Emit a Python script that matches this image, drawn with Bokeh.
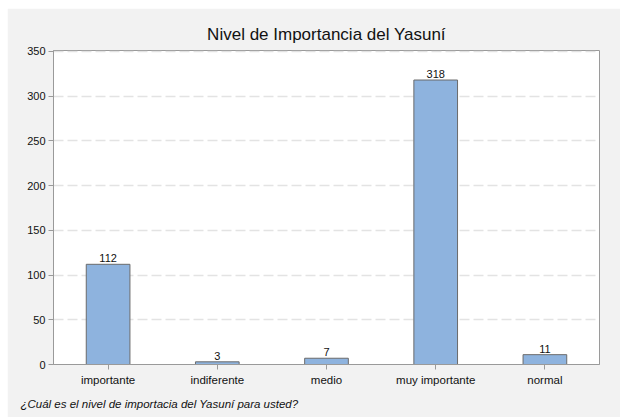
from bokeh.plotting import figure
from bokeh.models import ColumnDataSource, Title, LabelSet, Range1d, FixedTicker
from bokeh.core.properties import value
from bokeh.embed import file_html
from bokeh.resources import INLINE

categories = ["importante", "indiferente", "medio", "muy importante", "normal"]
counts = [112, 3, 7, 318, 11]
y_ticks = [0, 50, 100, 150, 200, 250, 300, 350]

title_text = "Nivel de Importancia del Yasuní"
xlabel_text = "¿Cuál es el nivel de importacia del Yasuní para usted?"

src = ColumnDataSource(dict(cat=categories, n=counts, lbl=[str(c) for c in counts]))

FONT = "Liberation Sans"

p = figure(x_range=categories, y_range=Range1d(0, 351), width=613, height=409,
           output_backend="svg", toolbar_location=None,
           min_border_left=46, min_border_right=21, min_border_top=42, min_border_bottom=53)
p.styles = {"margin-left": "7px", "margin-top": "8px"}

p.title.text = title_text
p.title.align = "center"
p.title.text_font = FONT
p.title.text_font_size = "17px"
p.title.text_font_style = "normal"
p.title.text_color = "#111111"
p.title.offset = 0
p.title.standoff = 13

p.background_fill_color = "white"
p.border_fill_color = "#f2f2f2"
p.outline_line_color = "#9a9a9a"
p.outline_line_width = 1

p.vbar(x="cat", top="n", width=0.4, source=src, fill_color="#8eb3de",
       line_color="#6b6b6b", line_width=1)

labels = LabelSet(x="cat", y="n", text="lbl", source=src, text_align="center",
                  text_baseline="bottom", y_offset=2, text_font=value(FONT),
                  text_font_size=value("11px"), text_color="#111111")
p.add_layout(labels)

p.xgrid.grid_line_color = None
p.ygrid.grid_line_color = "#e3e3e3"
p.ygrid.grid_line_dash = "10 4"
p.ygrid.grid_line_width = 1.5

p.yaxis.ticker = FixedTicker(ticks=y_ticks)
for ax in (p.xaxis[0], p.yaxis[0]):
    ax.axis_line_color = "#9a9a9a"
    ax.major_tick_line_color = "#9a9a9a"
    ax.major_tick_out = 5
    ax.major_tick_in = 0
    ax.minor_tick_line_color = None
    ax.major_label_text_font = FONT
    ax.major_label_text_font_size = "11px"
    ax.major_label_text_color = "#111111"
p.xaxis.major_label_text_font_size = "11.5px"
p.xaxis.major_label_standoff = 4
p.yaxis.major_label_standoff = 3

sub = Title(text=xlabel_text, align="left", text_font=FONT, text_font_size="11.5px",
            text_font_style="italic", text_color="#111111", offset=-33, standoff=15)
p.add_layout(sub, "below")

open("out.html", "w").write(file_html(p, INLINE))
